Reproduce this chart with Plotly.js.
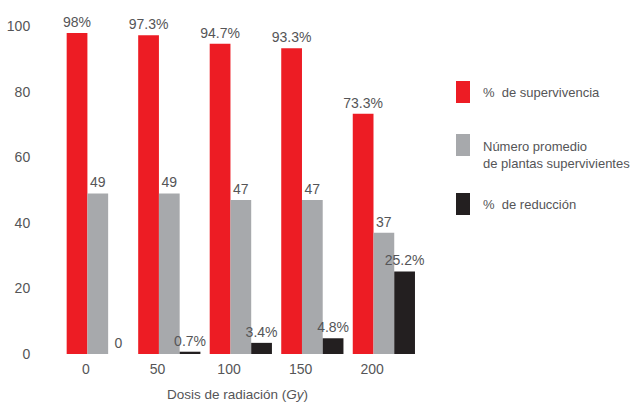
<!DOCTYPE html>
<html>
<head>
<meta charset="utf-8">
<script src="https://cdn.plot.ly/plotly-3.0.1.min.js"></script>
<style>
html,body{margin:0;padding:0;background:#fff}
#chart{width:633px;height:404px}
</style>
</head>
<body>
<div id="chart"></div>
<script>
// ---- data ----
const doses = ["0", "50", "100", "150", "200"];
const survivalPct = [98, 97.3, 94.7, 93.3, 73.3];
const survivalLabels = ["98%", "97.3%", "94.7%", "93.3%", "73.3%"];
const meanPlants = [49, 49, 47, 47, 37];
const meanPlantsLabels = ["49", "49", "47", "47", "37"];
const reductionPct = [0, 0.7, 3.4, 4.8, 25.2];
const reductionLabels = ["0", "0.7%", "3.4%", "4.8%", "25.2%"];
const seriesNames = ["%  de supervivencia", "Número promedio<br>de plantas supervivientes", "%  de reducción"];
const xTitle = "Dosis de radiación (<i>Gy</i>)";

// ---- style ----
const FONT = "'Liberation Sans', Arial, sans-serif";
const TXT = "#555557";
const colors = ["#ED1C24", "#A7A9AC", "#231F20"];
const W = 633, H = 404, L = 45, R = 203, T = 10, B = 50;
const PW = W - L - R, PH = H - T - B;
const px = v => (v - L) / PW;
const py = v => (H - B - v) / PH;

const idx = doses.map((d, i) => i);
const bw = 0.29;
const offs = [-0.27, 0.02, 0.31];
const vals = [survivalPct, meanPlants, reductionPct];
const labs = [survivalLabels, meanPlantsLabels, reductionLabels];

const traces = vals.map((v, k) => ({
  type: "bar",
  x: idx,
  y: v,
  width: bw,
  offset: offs[k],
  marker: {color: colors[k], line: {width: 0}},
  text: labs[k],
  textposition: "outside",
  constraintext: "none",
  cliponaxis: false,
  textfont: {family: FONT, size: 14, color: TXT},
  outsidetextfont: {family: FONT, size: 14, color: TXT},
  name: seriesNames[k],
  showlegend: false,
  hoverinfo: "skip"
}));

// manual legend (tall rectangular swatches)
const legY = [92, 145, 204];
const shapes = colors.map((c, k) => ({
  type: "rect", xref: "paper", yref: "paper",
  x0: px(456), x1: px(470), y0: py(legY[k] - 11), y1: py(legY[k] + 11),
  fillcolor: c, line: {width: 0}
}));
const annotations = seriesNames.map((n, k) => ({
  xref: "paper", yref: "paper",
  x: px(481), y: py(k === 1 ? 137 : legY[k]),
  xanchor: "left", yanchor: k === 1 ? "top" : "middle",
  text: n, showarrow: false, align: "left",
  font: {family: FONT, size: 13, color: TXT}
}));

const layout = {
  width: W, height: H,
  margin: {l: L, r: R, t: T, b: B, pad: 0},
  paper_bgcolor: "#fff", plot_bgcolor: "#fff",
  barmode: "overlay",
  font: {family: FONT, size: 14, color: TXT},
  xaxis: {
    range: [-0.573, 4.81],
    tickvals: idx, ticktext: doses,
    showgrid: false, zeroline: false, showline: false,
    ticks: "outside", ticklen: 2, tickcolor: "rgba(0,0,0,0)",
    tickfont: {family: FONT, size: 14, color: TXT},
    title: {text: xTitle, font: {family: FONT, size: 13.5, color: TXT}, standoff: 13}
  },
  yaxis: {
    range: [0, 105],
    tickvals: [0, 20, 40, 60, 80, 100],
    showgrid: false, zeroline: false, showline: false,
    ticks: "outside", ticklen: 11, tickcolor: "rgba(0,0,0,0)",
    tickfont: {family: FONT, size: 14, color: TXT}
  },
  shapes: shapes,
  annotations: annotations
};

Plotly.newPlot("chart", traces, layout, {staticPlot: true, displayModeBar: false});
</script>
</body>
</html>
